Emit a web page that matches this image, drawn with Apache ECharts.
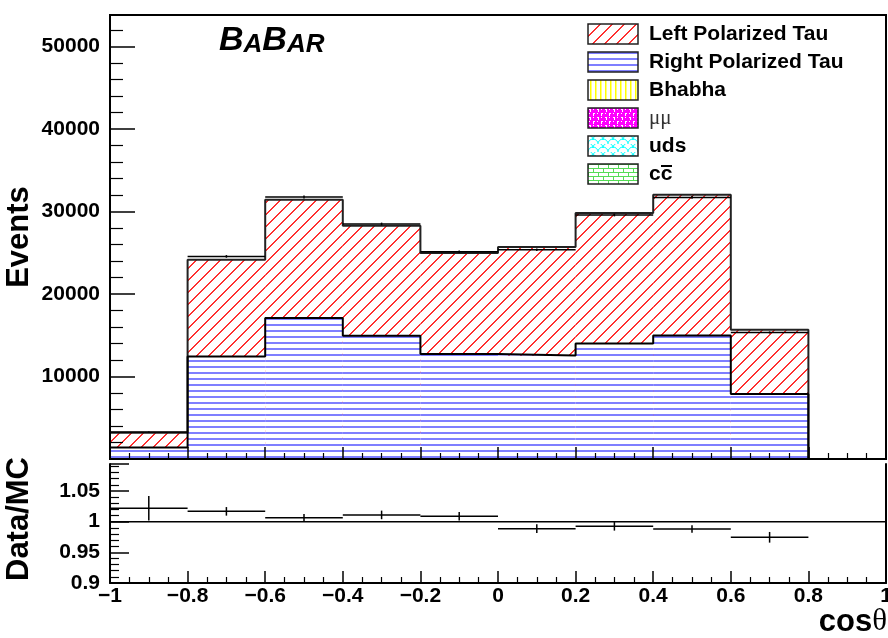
<!DOCTYPE html>
<html>
<head>
<meta charset="utf-8">
<script src="https://cdn.jsdelivr.net/npm/echarts@6/dist/echarts.min.js"></script>
<style>
  html, body { margin: 0; padding: 0; background: #fff; }
  #chart { width: 888px; height: 638px; }
</style>
</head>
<body>
<div id="chart"></div>
<script>
// cos(theta) bin edges: 9 bins of width 0.2
const binEdges = [-1.0, -0.8, -0.6, -0.4, -0.2, 0.0, 0.2, 0.4, 0.6, 0.8];

// Monte Carlo expectation per bin (events)
const leftPolarizedTau  = [1780, 11725, 14340, 13340, 12245, 13140, 15805, 17055, 7790];
const rightPolarizedTau = [1400, 12420, 17080, 14930, 12715, 12545, 14000, 14970, 7870];

// Measured events per bin and their uncertainties
const dataEvents = [3260, 24550, 31740, 28470, 25115, 25360, 29565, 31700, 15330];
const dataErrors = [60, 160, 180, 170, 160, 160, 170, 180, 125];

// Data / MC ratio per bin
const ratioValues = [1.0217, 1.0168, 1.0065, 1.011, 1.0087, 0.9886, 0.9924, 0.988, 0.9745];
const ratioErrors = [0.020, 0.007, 0.006, 0.007, 0.007, 0.007, 0.007, 0.006, 0.0087];

// Legend entries and tick labels
const legendNames = ['Left Polarized Tau', 'Right Polarized Tau', 'Bhabha', '\u03bc\u03bc', 'uds', 'cc'];
const eventsTickLabels = ['10000', '20000', '30000', '40000', '50000'];
const ratioTickLabels = ['0.9', '0.95', '1', '1.05'];
const cosTickLabels = ['\u22121', '\u22120.8', '\u22120.6', '\u22120.4', '\u22120.2', '0', '0.2', '0.4', '0.6', '0.8', '1'];

const FONT = "'Liberation Sans', Arial, Helvetica, sans-serif";
const SERIF = "'Liberation Serif', 'Times New Roman', serif";

// ---- fill patterns -------------------------------------------------------
function makePattern(w, h, paint) {
  const c = document.createElement('canvas');
  c.width = w; c.height = h;
  const ctx = c.getContext('2d');
  ctx.fillStyle = '#ffffff';
  ctx.fillRect(0, 0, w, h);
  paint(ctx, w, h);
  return { image: c, repetition: 'repeat' };
}
// "////" hatching
const redHatch = makePattern(12, 12, (ctx) => {
  ctx.fillStyle = '#ff3030';
  for (let x = 0; x < 12; x++) {
    ctx.fillRect(x, 11 - x, 1, 1);
    ctx.fillRect(x, (12 - x) % 12, 1, 1);
  }
});
const blueLines = makePattern(8, 6, (ctx) => {
  ctx.fillStyle = '#7f7fff'; ctx.fillRect(0, 0, 8, 2);
});
const yellowLines = makePattern(5, 5, (ctx) => {
  ctx.fillStyle = '#ffff00'; ctx.fillRect(2, 0, 1.5, 5);
});
const magentaWeave = makePattern(8, 8, (ctx) => {
  ctx.fillStyle = '#ff00ff'; ctx.fillRect(0, 0, 8, 8);
  ctx.fillStyle = '#ffffff';
  ctx.fillRect(1, 1, 2, 1); ctx.fillRect(2, 2, 1, 2); ctx.fillRect(5, 5, 2, 1); ctx.fillRect(5, 6, 1, 2);
  ctx.fillRect(5, 1, 1, 1); ctx.fillRect(1, 5, 1, 1);
});
const cyanScales = makePattern(10, 8, (ctx) => {
  ctx.strokeStyle = '#00ffff'; ctx.lineWidth = 1;
  ctx.beginPath(); ctx.arc(5, 8, 5, Math.PI, 2 * Math.PI); ctx.stroke();
  ctx.beginPath(); ctx.arc(0, 4, 5, Math.PI, 2 * Math.PI); ctx.stroke();
  ctx.beginPath(); ctx.arc(10, 4, 5, Math.PI, 2 * Math.PI); ctx.stroke();
});
const greenBricks = makePattern(10, 8, (ctx) => {
  ctx.fillStyle = '#55dd55';
  ctx.fillRect(0, 0, 10, 1);
  ctx.fillRect(0, 4, 10, 1);
  ctx.fillRect(0, 0, 1, 4);
  ctx.fillRect(5, 4, 1, 4);
});
const legendFills = [redHatch, blueLines, yellowLines, magentaWeave, cyanScales, greenBricks];

// ---- series data built from the arrays ------------------------------------
const mcTotal = leftPolarizedTau.map((v, i) => v + rightPolarizedTau[i]);

function binBoxes(tops) {
  return tops.map((t, i) => [binEdges[i], binEdges[i + 1], 0, t]);
}
function stepOutline(tops) {
  const pts = [[binEdges[0], 0]];
  tops.forEach((t, i) => pts.push([binEdges[i], t]));
  pts.push([binEdges[binEdges.length - 1], 0]);
  return pts;
}
function pointsWithErrors(values, errors) {
  return values.map((v, i) => [binEdges[i], binEdges[i + 1], v, errors[i]]);
}

function boxRenderer(fill) {
  return function (params, api) {
    const p0 = api.coord([api.value(0), api.value(3)]);
    const p1 = api.coord([api.value(1), api.value(2)]);
    return {
      type: 'rect',
      shape: { x: p0[0], y: p0[1], width: p1[0] - p0[0], height: p1[1] - p0[1] },
      style: { fill: fill, stroke: null }
    };
  };
}
function errorRenderer(params, api) {
  const lo = api.value(0), hi = api.value(1), v = api.value(2), e = api.value(3);
  const a = api.coord([lo, v]), b = api.coord([hi, v]);
  const mid = (lo + hi) / 2;
  const t = api.coord([mid, v + e]), u = api.coord([mid, v - e]);
  const st = { stroke: '#000', lineWidth: 1.5 };
  return {
    type: 'group',
    children: [
      { type: 'line', shape: { x1: a[0], y1: a[1], x2: b[0], y2: b[1] }, style: st },
      { type: 'line', shape: { x1: t[0], y1: t[1], x2: u[0], y2: u[1] }, style: st }
    ]
  };
}

// ---- axes -----------------------------------------------------------------
const blackLine = { color: '#000', width: 2 };
function cosAxis(gridIndex, showLabels) {
  return {
    type: 'value', gridIndex: gridIndex, min: -1, max: 1, interval: 0.2, z: 5,
    axisLine: { show: true, onZero: false, lineStyle: blackLine },
    axisTick: { show: true, inside: true, length: 12, lineStyle: { color: '#000', width: 1.5 } },
    minorTick: { show: true, splitNumber: 4, length: 6, lineStyle: { color: '#000', width: 1.2 } },
    splitLine: { show: false },
    axisLabel: {
      show: showLabels, color: '#000', fontFamily: FONT, fontWeight: 'bold', fontSize: 21, margin: 3,
      showMinLabel: true, showMaxLabel: true,
      formatter: (v) => cosTickLabels[Math.round((v + 1) / 0.2)] || ''
    }
  };
}

const option = {
  animation: false,
  backgroundColor: '#fff',
  grid: [
    { left: 110, top: 15, width: 776, height: 444, show: true, borderColor: '#000', borderWidth: 2,
      backgroundColor: 'transparent', outerBoundsMode: 'none', containLabel: false },
    { left: 110, top: 464, width: 776, height: 119, show: false, outerBoundsMode: 'none', containLabel: false }
  ],
  xAxis: [cosAxis(0, false), cosAxis(1, true)],
  yAxis: [
    {
      type: 'value', gridIndex: 0, min: 0, max: 53800, interval: 10000, z: 5,
      axisLine: { show: true, onZero: false, lineStyle: blackLine },
      axisTick: { show: true, inside: true, length: 25, lineStyle: { color: '#000', width: 1.5 } },
      minorTick: { show: true, splitNumber: 5, length: 13, lineStyle: { color: '#000', width: 1.2 } },
      splitLine: { show: false },
      axisLabel: {
        color: '#000', fontFamily: FONT, fontWeight: 'bold', fontSize: 21, margin: 10,
        formatter: (v) => eventsTickLabels.find((s) => Number(s) === Math.round(v)) || ''
      }
    },
    {
      type: 'value', gridIndex: 1, min: 0.9, max: 1.094, interval: 0.05, z: 5,
      axisLine: { show: true, onZero: false, lineStyle: blackLine },
      axisTick: { show: true, inside: true, length: 19, lineStyle: { color: '#000', width: 1.5 } },
      minorTick: { show: true, splitNumber: 5, length: 9, lineStyle: { color: '#000', width: 1.2 } },
      splitLine: { show: false },
      axisLabel: {
        color: '#000', fontFamily: FONT, fontWeight: 'bold', fontSize: 21, margin: 10,
        showMinLabel: true,
        formatter: (v) => ratioTickLabels.find((s) => Math.abs(Number(s) - v) < 1e-6) || ''
      }
    },
    {
      type: 'value', gridIndex: 1, position: 'right', min: 0.9, max: 1.094, z: 5,
      axisLine: { show: true, onZero: false, lineStyle: blackLine },
      axisTick: { show: false }, axisLabel: { show: false }, splitLine: { show: false }
    }
  ],
  series: [
    { type: 'custom', name: legendNames[0], coordinateSystem: 'cartesian2d', xAxisIndex: 0, yAxisIndex: 0,
      silent: true, z: 1, encode: { x: [0, 1], y: [2, 3] },
      renderItem: boxRenderer(redHatch), data: binBoxes(mcTotal) },
    { type: 'custom', name: legendNames[1], coordinateSystem: 'cartesian2d', xAxisIndex: 0, yAxisIndex: 0,
      silent: true, z: 2, encode: { x: [0, 1], y: [2, 3] },
      renderItem: boxRenderer(blueLines), data: binBoxes(rightPolarizedTau) },
    { type: 'line', xAxisIndex: 0, yAxisIndex: 0, step: 'end', symbol: 'none', silent: true, z: 3,
      lineStyle: { color: '#222', width: 2 }, data: stepOutline(mcTotal) },
    { type: 'line', xAxisIndex: 0, yAxisIndex: 0, step: 'end', symbol: 'none', silent: true, z: 4,
      lineStyle: { color: '#000', width: 2 }, data: stepOutline(rightPolarizedTau) },
    { type: 'custom', name: 'Data', coordinateSystem: 'cartesian2d', xAxisIndex: 0, yAxisIndex: 0,
      silent: true, z: 6, encode: { x: [0, 1], y: 2 },
      renderItem: errorRenderer, data: pointsWithErrors(dataEvents, dataErrors) },
    { type: 'line', xAxisIndex: 1, yAxisIndex: 1, symbol: 'none', silent: true, z: 3,
      lineStyle: { color: '#000', width: 1.5 }, data: [[-1, 1], [1, 1]] },
    { type: 'custom', name: 'Data/MC', coordinateSystem: 'cartesian2d', xAxisIndex: 1, yAxisIndex: 1,
      silent: true, z: 6, encode: { x: [0, 1], y: 2 },
      renderItem: errorRenderer, data: pointsWithErrors(ratioValues, ratioErrors) }
  ],
  graphic: []
};

// ---- legend -------------------------------------------------------------------
legendNames.forEach((name, i) => {
  const cy = 34 + 28 * i;
  option.graphic.push({
    type: 'rect', x: 588, y: cy - 10, shape: { x: 0, y: 0, width: 50, height: 20 },
    style: { fill: legendFills[i], stroke: '#222', lineWidth: 1.5 }, silent: true, z: 100
  });
  const isSymbol = name === '\u03bc\u03bc';
  option.graphic.push({
    type: 'text', x: 649, y: cy, silent: true, z: 100,
    style: {
      text: name, fill: isSymbol ? '#333' : '#000',
      font: isSymbol ? ('normal 21px ' + SERIF) : ('bold 21px ' + FONT),
      textAlign: 'left', textVerticalAlign: 'middle'
    }
  });
  if (name === 'cc') {
    option.graphic.push({
      type: 'line', silent: true, z: 100,
      shape: { x1: 661, y1: cy - 8, x2: 672, y2: cy - 8 },
      style: { stroke: '#000', lineWidth: 2 }
    });
  }
});

// ---- experiment label and axis titles ------------------------------------------
option.graphic.push({
  type: 'text', x: 219, y: 58, silent: true, z: 100,
  style: {
    text: '{b|B}{s|A}{b|B}{s|AR}', textAlign: 'left', textVerticalAlign: 'bottom',
    rich: {
      b: { fontFamily: FONT, fontWeight: 'bold', fontStyle: 'italic', fontSize: 34, lineHeight: 34, verticalAlign: 'bottom', fill: '#000' },
      s: { fontFamily: FONT, fontWeight: 'bold', fontStyle: 'italic', fontSize: 26, lineHeight: 34, verticalAlign: 'bottom', fill: '#000' }
    }
  }
});
option.graphic.push({
  type: 'text', x: 19, y: 237, rotation: Math.PI / 2, silent: true, z: 100,
  style: { text: 'Events', font: 'bold 31px ' + FONT, fill: '#000', textAlign: 'center', textVerticalAlign: 'middle' }
});
option.graphic.push({
  type: 'text', x: 19, y: 519, rotation: Math.PI / 2, silent: true, z: 100,
  style: { text: 'Data/MC', font: 'bold 31px ' + FONT, fill: '#000', textAlign: 'center', textVerticalAlign: 'middle' }
});
option.graphic.push({
  type: 'text', x: 887, y: 622, silent: true, z: 100,
  style: {
    text: '{c|cos}{t|\u03b8}', textAlign: 'right', textVerticalAlign: 'middle',
    rich: {
      c: { fontFamily: FONT, fontWeight: 'bold', fontSize: 31, fill: '#000' },
      t: { fontFamily: SERIF, fontWeight: 'normal', fontSize: 31, fill: '#000' }
    }
  }
});

const chart = echarts.init(document.getElementById('chart'), null, { renderer: 'canvas', width: 888, height: 638 });
chart.setOption(option);
</script>
</body>
</html>
